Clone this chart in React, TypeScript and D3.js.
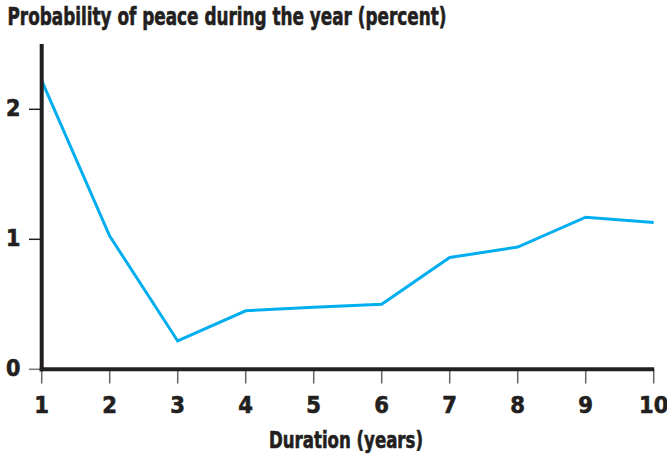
import * as React from "react";
import * as d3 from "d3";

const years = [1, 2, 3, 4, 5, 6, 7, 8, 9, 10];
const peaceProb = [2.22, 1.025, 0.218, 0.45, 0.477, 0.5, 0.86, 0.94, 1.17, 1.13];
const yTicks = [0, 1, 2];

const title = "Probability of peace during the year (percent)";
const xTitle = "Duration (years)";

const font = "'Liberation Sans Narrow', 'DejaVu Sans Condensed', 'Arial Narrow', sans-serif";
const ink = "#231f20";

export default function App() {
  const width = 667;
  const height = 456;

  const x = d3.scaleLinear().domain([1, 10]).range([41.7, 653.7]);
  const y = d3.scaleLinear().domain([0, 2]).range([369.3, 109.3]);

  const line = d3
    .line<number>()
    .x((d, i) => x(years[i]))
    .y((d) => y(d));

  // slight outline so the bold text reads as heavy as the original
  const heavy = { fill: ink, stroke: ink, strokeWidth: 0.6 };

  return (
    <svg
      width={width}
      height={height}
      style={{ position: "absolute", left: 0, top: 0, background: "#fff" }}
      fontFamily={font}
      fontWeight="bold"
    >
      <text x={7.5} y={25} fontSize={24} {...heavy} textLength={439} lengthAdjust="spacingAndGlyphs">
        {title}
      </text>

      {/* y ticks */}
      {yTicks.map((t) => (
        <g key={t}>
          <line x1={29} x2={x(1)} y1={y(t)} y2={y(t)} stroke={t === 0 ? "#777" : ink} strokeWidth={1.5} />
          <text x={20.5} y={y(t) + 7} textAnchor="end" fontSize={23} {...heavy}>
            {t}
          </text>
        </g>
      ))}

      {/* x ticks */}
      {years.map((v) => (
        <g key={v}>
          <line x1={x(v)} x2={x(v)} y1={y(0)} y2={383.5} stroke="#666" strokeWidth={1.5} />
          <text x={x(v)} y={412.5} textAnchor="middle" fontSize={23.5} {...heavy}>
            {v}
          </text>
        </g>
      ))}

      <path d={line(peaceProb) || ""} fill="none" stroke="#00aeef" strokeWidth={3} strokeLinejoin="miter" />

      {/* axes */}
      <line x1={x(1)} x2={x(1)} y1={44} y2={y(0) + 2} stroke={ink} strokeWidth={4} />
      <line x1={x(1) - 2} x2={x(10) + 0.5} y1={y(0)} y2={y(0)} stroke={ink} strokeWidth={4} />

      <text x={346} y={448} textAnchor="middle" fontSize={23} {...heavy} textLength={154} lengthAdjust="spacingAndGlyphs">
        {xTitle}
      </text>
    </svg>
  );
}
